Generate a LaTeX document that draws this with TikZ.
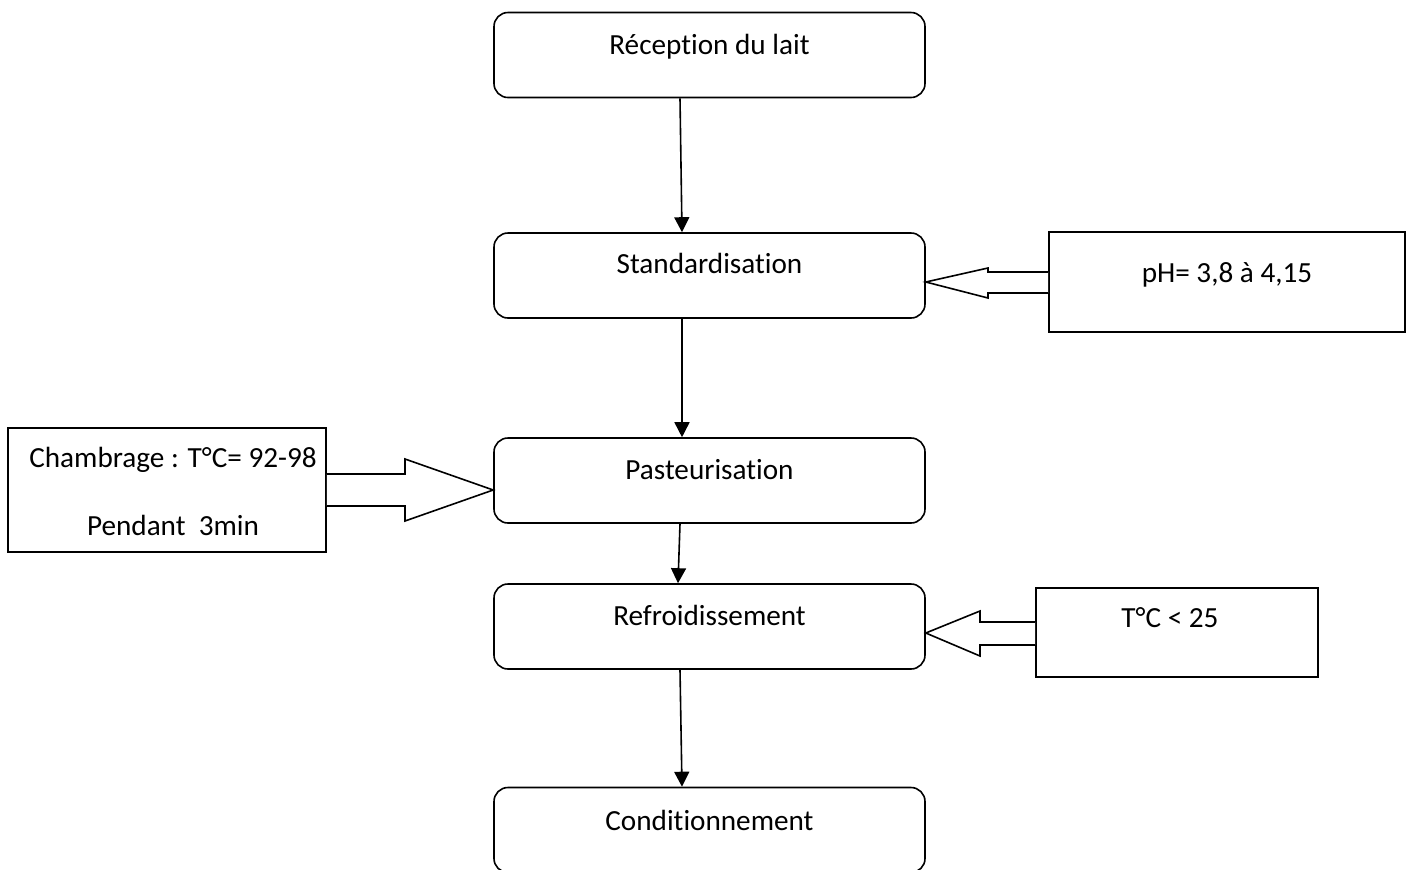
\documentclass[tikz,border=0pt]{standalone}
\usepackage{fontspec}
\setmainfont{Carlito}[Ligatures={NoCommon}]
\usetikzlibrary{arrows.meta}
\tikzset{
  stepbox/.style={draw, line width=0.8pt, rounded corners=7pt, minimum width=215.5pt, minimum height=42.5pt, inner sep=0pt},
  sidebox/.style={draw, line width=0.8pt, inner sep=0pt},
  lbl/.style={anchor=base, inner sep=0pt, font=\fontsize{14.6}{17}\selectfont},
  flow/.style={line width=0.8pt, -{Triangle[length=7.5pt,width=7.5pt]}},
  blk/.style={draw, line width=0.8pt, line join=miter, fill=white}
}
\begin{document}
\begin{tikzpicture}[x=0.5pt,y=-0.5pt]
\useasboundingbox (0,0) rectangle (1410,869);
% main step boxes
\node[stepbox] (rec) at (709.5,55) {};
\node[stepbox] (std) at (709.5,275.5) {};
\node[stepbox] (pas) at (709.5,480.5) {};
\node[stepbox] (ref) at (709.5,626.5) {};
\node[stepbox] (con) at (709.5,830) {};
\node[lbl] (trec) at (709.5,54) {Réception du lait};
\node[lbl] (tstd) at (709.5,273) {Standardisation};
\node[lbl] (tpas) at (709.5,479) {Pasteurisation};
\node[lbl] (tref) at (709.5,625) {Refroidissement};
\node[lbl] (tcon) at (709.5,830) {Conditionnement};
% side boxes
\node[sidebox, minimum width=178pt, minimum height=50pt] (ph) at (1227,282) {};
\node[lbl] (tph) at (1227,282) {pH= 3,8 à 4,15};
\node[sidebox, minimum width=159pt, minimum height=62pt] (cha) at (167,490) {};
\node[lbl] (tcha1) at (173,467) {Chambrage : T°C= 92-98};
\node[lbl] (tcha2) at (173,535) {Pendant\ \ 3min};
\node[sidebox, minimum width=141pt, minimum height=44.5pt] (tc) at (1177,632.5) {};
\node[lbl] (ttc) at (1170,627) {T°C < 25};
% flow arrows
\draw[flow] (rec.south -| 680,0) -- (std.north -| 682,0);
\draw[flow] (std.south -| 682,0) -- (pas.north -| 682,0);
\draw[flow] (pas.south -| 680,0) -- (ref.north -| 678,0);
\draw[flow] (ref.south -| 680,0) -- (con.north -| 682,0);
% block arrows
\draw[blk] (ph.west |- 0,272) -- (988,272) -- (988,268) -- (std.east |- 0,282) -- (988,298) -- (988,293) -- (ph.west |- 0,293);
\draw[blk] (cha.east |- 0,474) -- (405,474) -- (405,459) -- (pas.west |- 0,490) -- (405,521) -- (405,506) -- (cha.east |- 0,506);
\draw[blk] (tc.west |- 0,622) -- (980,622) -- (980,611) -- (ref.east |- 0,633) -- (980,656) -- (980,645) -- (tc.west |- 0,645);
\end{tikzpicture}
\end{document}
